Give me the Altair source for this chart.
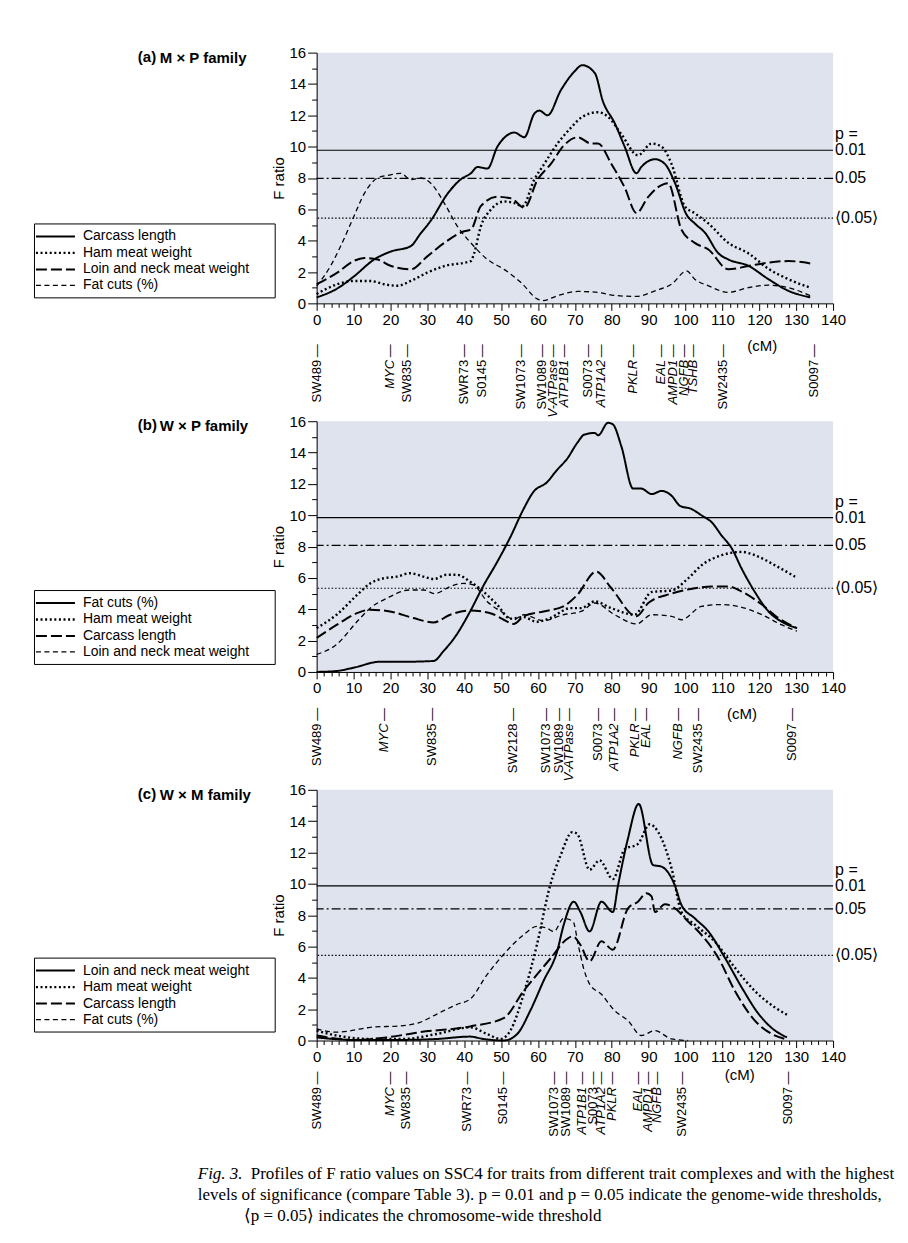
import altair as alt
import pandas as pd

FONT = "Liberation Sans"
SERIF = "Liberation Serif"
W, H = 517, 251

# ---------------- Panel (a) M x P family ----------------
A_TRAITS = ["Carcass length", "Ham meat weight", "Loin and neck meat weight", "Fat cuts (%)"]
A_T1_CM = [0, 5.6, 10, 15.6, 20, 25.5, 28, 31, 35.5, 39, 41.8, 43.6, 46.3, 49, 51, 53.6, 56.3, 59, 60.4, 62.6,
           66.2, 69.9, 72, 75.4, 77.6, 80.8, 83.5, 86.7, 88, 91.7, 94.4, 97.1, 100.3, 102.5, 105.3, 108.9,
           111.6, 117, 122.5, 127.9, 133.8]
A_T1_F = [0.38, 0.95, 1.7, 2.8, 3.3, 3.65, 4.4, 5.3, 7.0, 7.9, 8.3, 8.7, 8.6, 10.0, 10.6, 10.9, 10.6, 12.1, 12.3,
          12.0, 13.6, 14.8, 15.2, 14.7, 12.9, 11.5, 10.0, 8.3, 8.7, 9.2, 8.9, 7.7, 5.65, 5.1, 4.5, 3.2, 2.8,
          2.4, 1.54, 0.8, 0.38]
A_T2_CM = [0, 5.6, 10, 14.6, 18.3, 21.9, 25.5, 30, 34.6, 41.8, 42.7, 44.5, 47.2, 50.8, 53.6, 55.8, 59, 61.7,
           65.3, 68.9, 72, 76.3, 79, 82.6, 87.1, 90.8, 93.5, 96.2, 99.8, 102.5, 106.2, 111.6, 117, 122.5,
           127.9, 133.8]
A_T2_F = [0.6, 1.22, 1.43, 1.43, 1.22, 1.12, 1.43, 1.96, 2.38, 2.7, 3.2, 4.9, 5.97, 6.5, 6.4, 6.2, 7.9, 8.9,
          10.2, 11.2, 11.9, 12.2, 11.9, 10.8, 9.45, 10.2, 10.0, 8.9, 6.2, 5.75, 5.1, 3.86, 3.2, 2.2, 1.54, 1.0]
A_T3_CM = [0, 5.6, 10, 12.9, 16.5, 20, 25.5, 30, 34.6, 40, 41.8, 44.5, 49, 52.7, 56.3, 59.9, 63.5, 67.1, 70.8,
           74.4, 76.3, 79.9, 83.5, 86.7, 89.9, 93.5, 95.3, 98.9, 102.5, 106.2, 111.6, 117, 122.5, 127.9, 133.8]
A_T3_F = [1.22, 1.96, 2.7, 2.9, 2.8, 2.4, 2.17, 3.0, 3.86, 4.6, 4.7, 6.2, 6.8, 6.7, 6.1, 7.9, 8.9, 10.1, 10.6,
          10.2, 10.2, 8.9, 7.4, 5.76, 6.8, 7.55, 7.66, 4.7, 3.86, 3.44, 2.17, 2.38, 2.6, 2.7, 2.55]
A_T4_CM = [0, 3.8, 6.5, 10, 12.9, 16.5, 20, 22.8, 25.5, 28.2, 31, 34.6, 38.2, 41.8, 46.3, 50.8, 55.4, 59.9,
           61.3, 65.3, 70.8, 76.3, 79.9, 86.7, 91.7, 96.2, 100.3, 102.5, 106.2, 111.6, 117, 122.5, 127.9, 133.8]
A_T4_F = [1.1, 2.4, 3.65, 5.5, 7.0, 8.0, 8.2, 8.3, 7.9, 8.0, 7.65, 6.4, 4.9, 3.86, 2.8, 2.17, 1.33, 0.27, 0.17,
          0.49, 0.76, 0.7, 0.53, 0.44, 0.8, 1.22, 2.07, 1.54, 1.12, 0.7, 1.0, 1.16, 1.0, 0.49]
A_THRESH = [9.77, 7.97, 5.44]
A_MARKERS = ["SW489", "MYC", "SW835", "SWR73", "S0145", "SW1073", "SW1089", "V-ATPase", "ATP1B1", "S0073",
             "ATP1A2", "PKLR", "EAL", "AMPD1", "NGFB", "TSHB", "SW2435", "S0097"]
A_MARKER_CM = [0, 19.9, 24.4, 40, 44.8, 55.3, 61, 64.2, 67, 73.6, 77, 85.7, 93.4, 96.7, 99.6, 102, 110.2, 134.7]
A_MARKER_IT = [0, 1, 0, 0, 0, 0, 0, 1, 1, 0, 1, 1, 1, 1, 1, 1, 0, 0]

# ---------------- Panel (b) W x P family ----------------
B_TRAITS = ["Fat cuts (%)", "Ham meat weight", "Carcass length", "Loin and neck meat weight"]
B_T1_CM = [0, 5.4, 10, 17.2, 23.5, 31.7, 34.4, 38, 41.6, 45.2, 48.9, 52.5, 56.1, 58.8, 62.4, 65.2, 67.9, 70.6,
           72.6, 75.4, 76.3, 79, 80.3, 82.6, 85.8, 88, 90.8, 93.5, 96.2, 98.5, 101.6, 104.3, 107.1, 109.8, 112.5,
           115.2, 118.8, 122.5, 126.1, 130.2]
B_T1_F = [0, 0.06, 0.27, 0.65, 0.65, 0.7, 1.33, 2.4, 3.86, 5.5, 7.0, 8.6, 10.4, 11.5, 12.1, 12.9, 13.6, 14.6,
          15.15, 15.25, 15.1, 15.9, 15.8, 14.4, 11.7, 11.7, 11.35, 11.55, 11.25, 10.6, 10.4, 10.0, 9.55, 8.7, 7.9,
          6.6, 5.1, 3.86, 3.2, 2.8]
B_T2_CM = [0, 5.4, 10.9, 14.5, 18.1, 21.7, 25.3, 29, 31.7, 35.3, 38, 41.6, 44.3, 48.9, 52.5, 56.1, 59.7, 63.3,
           68.8, 71.7, 75.4, 79.9, 86.2, 90.8, 96.2, 100.7, 104.3, 109.8, 115.2, 118.8, 124.3, 129.7]
B_T2_F = [2.8, 3.65, 4.9, 5.65, 5.97, 6.08, 6.3, 6.08, 5.93, 6.2, 6.2, 5.76, 5.3, 4.3, 3.4, 3.5, 3.2, 3.44,
          4.07, 4.07, 4.5, 4.07, 3.65, 5.1, 5.2, 5.97, 6.8, 7.45, 7.66, 7.45, 6.8, 6.08]
B_T3_CM = [0, 5.4, 10.9, 14.5, 19.9, 26.2, 31.7, 36.2, 41.6, 47.1, 50.7, 53.4, 56.1, 61.5, 66.9, 70.6, 75.8,
           79.9, 86.7, 89.9, 96.2, 102.5, 107.1, 111.6, 115.2, 120.7, 125.2, 130.2]
B_T3_F = [2.17, 3.0, 3.75, 3.97, 3.86, 3.44, 3.16, 3.65, 3.92, 3.75, 3.33, 3.06, 3.55, 3.86, 4.18, 4.9, 6.4,
          5.34, 3.55, 4.4, 5.0, 5.34, 5.45, 5.45, 5.13, 4.3, 3.44, 2.8]
B_T4_CM = [0, 5.4, 10.9, 14.5, 19, 25.3, 29, 32.1, 36.2, 39.8, 42.5, 46.2, 50.7, 53.4, 56.1, 61.5, 66.9, 71.7,
           75.4, 80.8, 86.7, 90.8, 96.2, 98.9, 104.3, 109.8, 114.3, 120.7, 126.1, 130.2]
B_T4_F = [1.12, 1.75, 3.2, 4.07, 4.7, 5.23, 5.23, 5.0, 5.45, 5.65, 5.55, 4.5, 3.75, 3.33, 3.65, 3.27, 3.65,
          3.86, 4.4, 3.65, 3.06, 3.65, 3.55, 3.33, 4.18, 4.3, 4.18, 3.65, 3.0, 2.6]
B_THRESH = [9.85, 8.08, 5.34]
B_MARKERS = ["SW489", "MYC", "SW835", "SW2128", "SW1073", "SW1089", "V-ATPase", "S0073", "ATP1A2", "PKLR",
             "EAL", "NGFB", "SW2435", "S0097"]
B_MARKER_CM = [0, 18.3, 31.4, 53.1, 62.3, 65.6, 68.5, 76.3, 80.6, 86.4, 89.3, 98, 103.3, 128.9]
B_MARKER_IT = [0, 1, 0, 0, 0, 0, 1, 0, 1, 1, 1, 1, 0, 0]

# ---------------- Panel (c) W x M family ----------------
C_TRAITS = ["Loin and neck meat weight", "Ham meat weight", "Carcass length", "Fat cuts (%)"]
C_T1_CM = [0, 10, 23.5, 32.6, 41.6, 45.2, 50.7, 54.3, 57.9, 61.5, 65.2, 67, 69.7, 71.5, 74, 77.2, 80.3, 81.7,
           84.4, 87.3, 91.2, 93.5, 97.1, 98.9, 102.5, 106.2, 110.7, 115.2, 119.8, 124.3, 127.5]
C_T1_F = [0.2, 0.04, 0.04, 0.1, 0.25, 0.1, 0, 0.4, 1.9, 3.8, 5.7, 7.4, 8.86, 8.2, 6.96, 8.86, 8.2, 9.9, 12.9,
          15.1, 11.2, 11.1, 9.9, 8.65, 7.8, 6.96, 5.27, 3.4, 1.7, 0.63, 0.2]
C_T2_CM = [0, 5.4, 14.5, 23.5, 32.6, 41.6, 46.2, 49.8, 52.5, 56.1, 59.7, 63.3, 66.1, 69.3, 70.6, 74, 76.7,
           80.3, 83.5, 87.1, 90.3, 92.6, 96.2, 98.9, 102.5, 108, 113.4, 118.8, 124.3, 127.5]
C_T2_F = [0.63, 0.32, 0.1, 0.1, 0.42, 0.84, 0.42, 0.1, 0.63, 2.95, 6.1, 9.9, 11.8, 13.3, 13.2, 10.9, 11.5,
          10.3, 12.2, 12.55, 13.8, 13.3, 11.0, 8.2, 7.4, 6.3, 4.64, 3.16, 2.1, 1.65]
C_T3_CM = [0, 10, 19, 28, 41.6, 50.7, 56.1, 59.7, 64.3, 67, 69.5, 71.5, 74, 77.2, 80.3, 84.4, 87.1, 89.4, 90.8,
           91.7, 94.4, 97.1, 100.7, 104.3, 108.9, 113.4, 118.8, 123.4, 127]
C_T3_F = [0.32, 0.04, 0.2, 0.53, 0.9, 1.43, 3.16, 4.2, 5.5, 6.3, 6.65, 6.1, 5.06, 6.33, 5.8, 8.44, 8.86, 9.4,
          9.2, 8.2, 8.7, 8.44, 7.6, 6.75, 5.27, 3.16, 1.27, 0.42, 0.1]
C_T4_CM = [0, 5.4, 14.5, 23.5, 28, 32.6, 38, 41.6, 46.2, 50.7, 56.1, 59.7, 62.4, 64.3, 67, 69.5, 71, 72.5, 74,
           77.2, 80.8, 84.4, 88, 91.7, 96.2, 100.7]
C_T4_F = [0.74, 0.53, 0.84, 0.95, 1.16, 1.69, 2.3, 2.64, 4.2, 5.5, 6.75, 7.28, 7.17, 6.96, 7.8, 7.6, 6.0, 4.5,
          3.6, 2.95, 1.9, 1.27, 0.32, 0.63, 0.1, 0.0]
C_THRESH = [9.87, 8.4, 5.44]
C_MARKERS = ["SW489", "MYC", "SW835", "SWR73", "S0145", "SW1073", "SW1089", "ATP1B1", "S0073", "ATP1A2",
             "PKLR", "EAL", "AMPD1", "NGFB", "SW2435", "S0097"]
C_MARKER_CM = [0, 19.9, 24.3, 40.8, 50.5, 64.3, 67.5, 71.9, 74.8, 77.1, 80.2, 87, 89.9, 92.3, 99.1, 127.8]
C_MARKER_IT = [0, 1, 0, 0, 0, 0, 0, 1, 0, 1, 1, 1, 1, 1, 0, 0]

THRESH_LABELS = ["0.01", "0.05", "\u27e80.05\u27e9"]
CAPTION_1A = "Fig. 3."
CAPTION_1B = "Profiles of F ratio values on SSC4 for traits from different trait complexes and with the highest"
CAPTION_2 = "levels of significance (compare Table 3). p = 0.01 and p = 0.05 indicate the genome-wide thresholds,"
CAPTION_3 = "\u27e8p = 0.05\u27e9 indicates the chromosome-wide threshold"

DASHES = [[1, 0], [2, 2.6], [11, 4], [5, 3.5]]
WIDTHS = [2.0, 2.4, 2.0, 1.3]

XSCALE = alt.Scale(domain=[0, 140], nice=False, zero=False)
YSCALE = alt.Scale(domain=[0, 16], nice=False)
PAD = "\u2800\u2800"
BG = "#dfe3ee"


def x_axis():
    return alt.Axis(values=list(range(0, 141, 2)), tickCount=500, format="d",
                    labelExpr="datum.value % 10 === 0 ? datum.label : ''",
                    tickSize={"condition": {"test": "datum.value % 10 === 0", "value": 7}, "value": 4},
                    title=None, grid=False, labelFlush=False, labelOverlap=False,
                    labelFont=FONT, labelFontSize=15, labelColor="black", labelPadding=2,
                    tickColor="black", domainColor="black", tickWidth=1, domainWidth=1)


def y_axis():
    return alt.Axis(values=list(range(0, 17)), tickCount=500, format="d",
                    labelExpr="datum.value % 2 === 0 ? datum.label : ''",
                    tickSize={"condition": {"test": "datum.value % 2 === 0", "value": 9}, "value": 5},
                    title="F ratio", titleFont=FONT, titleFontSize=15, titleFontWeight="normal",
                    titleColor="black", titlePadding=3, grid=False, labelOverlap=False,
                    labelFont=FONT, labelFontSize=15, labelColor="black", labelPadding=2,
                    tickColor="black", domainColor="black", tickWidth=1, domainWidth=1)


def panel(tag, family, traits, series, thresholds, markers, marker_cm, marker_it,
          cm_pos, marker_off, cm_off, legend_y, extra=()):
    rows = []
    for t, (xs, ys) in zip(traits, series):
        for x, y in zip(xs, ys):
            rows.append({"trait": t, "cM": x, "F": y})
    df = pd.DataFrame(rows)

    legend = alt.Legend(title=None, orient="none", legendX=-283, legendY=legend_y, direction="vertical",
                        strokeColor="black", fillColor="white", padding=5,
                        labelFont=FONT, labelFontSize=14, labelColor="black", labelLimit=400,
                        labelExpr="datum.label + '" + PAD + "'",
                        symbolType="M-2.79,0H2.79", symbolSize=196, symbolStrokeWidth=1.6,
                        symbolStrokeColor="black", symbolFillColor="transparent",
                        symbolOffset=8, labelOffset=19, rowPadding=1)

    lines = alt.Chart(df).mark_line(interpolate="monotone", color="black").encode(
        x=alt.X("cM:Q", scale=XSCALE, axis=x_axis()),
        y=alt.Y("F:Q", scale=YSCALE, axis=y_axis()),
        strokeDash=alt.StrokeDash("trait:N", scale=alt.Scale(domain=traits, range=DASHES), legend=legend),
        strokeWidth=alt.StrokeWidth("trait:N", scale=alt.Scale(type="ordinal", domain=traits, range=WIDTHS),
                                    legend=None),
    )

    thr = pd.DataFrame({"F": thresholds, "lab": THRESH_LABELS, "k": [0, 1, 2]})
    r1 = alt.Chart(thr).transform_filter("datum.k == 0").mark_rule(color="black", strokeWidth=1.2).encode(
        y="F:Q")
    r2 = alt.Chart(thr).transform_filter("datum.k == 1").mark_rule(
        color="black", strokeWidth=1.2, strokeDash=[9, 3, 2, 3]).encode(y="F:Q")
    r3 = alt.Chart(thr).transform_filter("datum.k == 2").mark_rule(
        color="black", strokeWidth=1.2, strokeDash=[1.5, 2]).encode(y="F:Q")
    tl = alt.Chart(thr).mark_text(align="left", baseline="middle", dx=2, font=FONT, fontSize=16,
                                  color="black").encode(x=alt.value(W), y="F:Q", text="lab:N")
    pl = alt.Chart(thr).transform_filter("datum.k == 0").mark_text(
        align="left", baseline="middle", dx=2, dy=-16, font=FONT, fontSize=16, color="black").encode(
        x=alt.value(W), y="F:Q", text=alt.value("p ="))

    mk = pd.DataFrame({"name": markers, "cM": marker_cm, "it": marker_it})
    mk["label"] = mk["name"] + "\u2009\u2014"
    m_up = alt.Chart(mk).transform_filter("datum.it == 0").mark_text(
        angle=270, align="right", baseline="middle", font=FONT, fontSize=13, color="black").encode(
        x="cM:Q", y=alt.value(H + marker_off), text="label:N")
    m_it = alt.Chart(mk).transform_filter("datum.it == 1").mark_text(
        angle=270, align="right", baseline="middle", font=FONT, fontSize=13, fontStyle="italic",
        color="black").encode(x="cM:Q", y=alt.value(H + marker_off), text="label:N")
    cm = alt.Chart(pd.DataFrame({"cM": [cm_pos], "t": ["(cM)"]})).mark_text(
        baseline="top", font=FONT, fontSize=15, color="black").encode(
        x="cM:Q", y=alt.value(H + cm_off), text="t:N")

    t1 = alt.Chart(pd.DataFrame({"t": [tag]})).mark_text(
        align="left", baseline="middle", font=FONT, fontSize=15, fontWeight="bold", color="black").encode(
        x=alt.value(-179), y=alt.value(4), text="t:N")
    t2 = alt.Chart(pd.DataFrame({"t": [family]})).mark_text(
        align="left", baseline="middle", font=FONT, fontSize=15, fontWeight="bold", color="black").encode(
        x=alt.value(-157), y=alt.value(5), text="t:N")

    layers = [lines, r1, r2, r3, tl, pl, m_up, m_it, cm, t1, t2] + list(extra)
    return alt.layer(*layers).properties(
        width=W, height=H, view=alt.ViewBackground(fill=BG, strokeWidth=0))


cap = [
    alt.Chart(pd.DataFrame({"t": [CAPTION_1A]})).mark_text(
        align="left", baseline="middle", font=SERIF, fontSize=17, fontStyle="italic", color="black").encode(
        x=alt.value(-119), y=alt.value(385), text="t:N"),
    alt.Chart(pd.DataFrame({"t": [CAPTION_1B]})).mark_text(
        align="left", baseline="middle", font=SERIF, fontSize=17, color="black").encode(
        x=alt.value(-66), y=alt.value(385), text="t:N"),
    alt.Chart(pd.DataFrame({"t": [CAPTION_2]})).mark_text(
        align="left", baseline="middle", font=SERIF, fontSize=17, color="black").encode(
        x=alt.value(-119), y=alt.value(406), text="t:N"),
    alt.Chart(pd.DataFrame({"t": [CAPTION_3]})).mark_text(
        align="left", baseline="middle", font=SERIF, fontSize=17, color="black").encode(
        x=alt.value(-73), y=alt.value(427), text="t:N"),
]

pa = panel("(a)", "M \u00d7 P family", A_TRAITS,
           [(A_T1_CM, A_T1_F), (A_T2_CM, A_T2_F), (A_T3_CM, A_T3_F), (A_T4_CM, A_T4_F)],
           A_THRESH, A_MARKERS, A_MARKER_CM, A_MARKER_IT, 120.8, 41, 36, 171)
pb = panel("(b)", "W \u00d7 P family", B_TRAITS,
           [(B_T1_CM, B_T1_F), (B_T2_CM, B_T2_F), (B_T3_CM, B_T3_F), (B_T4_CM, B_T4_F)],
           B_THRESH, B_MARKERS, B_MARKER_CM, B_MARKER_IT, 115.3, 36, 35, 169)
pc = panel("(c)", "W \u00d7 M family", C_TRAITS,
           [(C_T1_CM, C_T1_F), (C_T2_CM, C_T2_F), (C_T3_CM, C_T3_F), (C_T4_CM, C_T4_F)],
           C_THRESH, C_MARKERS, C_MARKER_CM, C_MARKER_IT, 114.7, 31, 28, 168, extra=cap)

chart = alt.vconcat(pa, pb, pc, spacing=118, bounds="flush").resolve_scale(
    strokeDash="independent", strokeWidth="independent"
).resolve_legend(strokeDash="independent").properties(
    padding={"left": 25, "top": 37, "right": 5, "bottom": 5}, background="white"
).configure_view(fill=BG, strokeWidth=0).configure_axis(labelOverlap=False)

chart.save("out.html", embed_options={"renderer": "svg", "actions": False})
